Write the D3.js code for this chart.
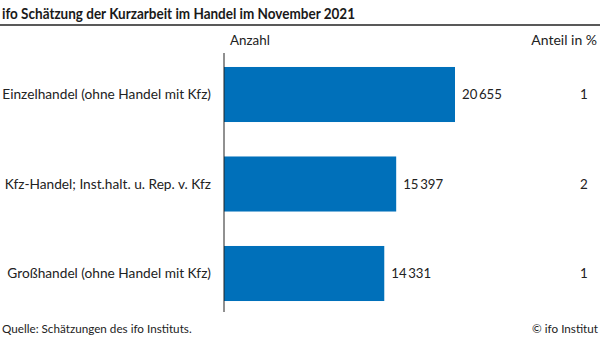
<!DOCTYPE html>
<html>
<head>
<meta charset="utf-8">
<script src="https://cdn.jsdelivr.net/npm/d3@7"></script>
<style>
  html, body { margin: 0; padding: 0; background: #fff; }
  svg { display: block; font-family: Lato, "Open Sans", sans-serif; }
</style>
</head>
<body>
<svg id="chart" width="600" height="339"></svg>
<script>
// Kurzarbeit im Handel, November 2021
const categories = [
  "Einzelhandel (ohne Handel mit Kfz)",
  "Kfz-Handel; Inst.halt. u. Rep. v. Kfz",
  "Großhandel (ohne Handel mit Kfz)"
];
const counts = [20655, 15397, 14331];
const shares = [1, 2, 1];

const svg = d3.select("#chart");
const W = 600;
const ink = "#222";

// Title and rule
svg.append("text")
  .attr("x", 2).attr("y", 19)
  .attr("font-size", 16).attr("font-weight", "bold").attr("fill", "#1a1a1a")
  .attr("textLength", 353).attr("lengthAdjust", "spacingAndGlyphs")
  .text("ifo Schätzung der Kurzarbeit im Handel im November 2021");
svg.append("line")
  .attr("x1", 0).attr("x2", W).attr("y1", 25).attr("y2", 25)
  .attr("stroke", ink).attr("stroke-width", 1.5);

// Scales
const x = d3.scaleLinear().domain([0, 24000]).range([224, 224 + 24000 * (231 / 20655)]);
const y = d3.scaleBand().domain(categories).range([49.75, 318.25]).paddingInner(0.385).paddingOuter(0.1925);

// Column headers
svg.append("text").attr("x", 230).attr("y", 45)
  .attr("font-size", 13.4).attr("fill", ink).text("Anzahl");
svg.append("text").attr("x", 597).attr("y", 45).attr("text-anchor", "end")
  .attr("font-size", 14).attr("fill", ink).text("Anteil in %");

// Bars
svg.selectAll("rect.bar").data(categories).join("rect")
  .attr("class", "bar")
  .attr("x", x(0))
  .attr("y", d => y(d))
  .attr("width", (d, i) => x(counts[i]) - x(0))
  .attr("height", y.bandwidth())
  .attr("fill", "#0070ba");

// Axis line
svg.append("line")
  .attr("x1", x(0)).attr("x2", x(0)).attr("y1", 53).attr("y2", 312)
  .attr("stroke", ink).attr("stroke-width", 1);

// Category labels
const fmt = v => d3.format(",")(v).replace(/,/g, "\u2009");
svg.selectAll("text.cat").data(categories).join("text")
  .attr("class", "cat")
  .attr("x", 211)
  .attr("y", d => y(d) + y.bandwidth() / 2)
  .attr("dy", "0.35em")
  .attr("text-anchor", "end")
  .attr("font-size", 13.7).attr("fill", ink)
  .text(d => d);

// Value labels
svg.selectAll("text.val").data(categories).join("text")
  .attr("class", "val")
  .attr("x", (d, i) => x(counts[i]) + 7)
  .attr("y", d => y(d) + y.bandwidth() / 2)
  .attr("dy", "0.35em")
  .attr("font-size", 13.2).attr("fill", ink)
  .text((d, i) => fmt(counts[i]));

// Share column
svg.selectAll("text.share").data(categories).join("text")
  .attr("class", "share")
  .attr("x", 584)
  .attr("y", d => y(d) + y.bandwidth() / 2)
  .attr("dy", "0.35em")
  .attr("text-anchor", "middle")
  .attr("font-size", 13.4).attr("fill", ink)
  .text((d, i) => shares[i]);

// Footer
svg.append("text").attr("x", 2).attr("y", 333)
  .attr("font-size", 11.7).attr("fill", ink).text("Quelle: Schätzungen des ifo Instituts.");
svg.append("text").attr("x", 598).attr("y", 333).attr("text-anchor", "end")
  .attr("font-size", 11.7).attr("fill", ink).text("© ifo Institut");
</script>
</body>
</html>
